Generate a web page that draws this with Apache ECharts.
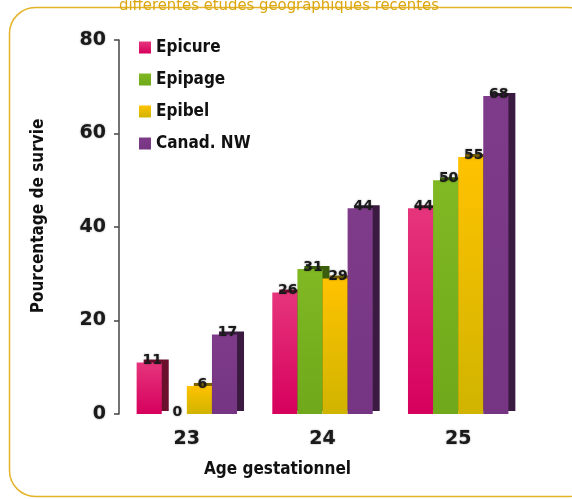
<!DOCTYPE html>
<html>
<head>
<meta charset="utf-8">
<script src="https://cdn.jsdelivr.net/npm/echarts@6/dist/echarts.min.js"></script>
<style>
  html, body { margin: 0; padding: 0; background: #fff; }
  #main { width: 572px; height: 499px; }
</style>
</head>
<body>
<div id="main"></div>
<script>
// données
var ages = ['23', '24', '25'];
var epicure = [11, 26, 44];
var epipage = [0, 31, 50];
var epibel = [6, 29, 55];
var canad = [17, 44, 68];
var yTicks = [0, 20, 40, 60, 80];

var chart = echarts.init(document.getElementById('main'));

var numFont = 'DejaVu Sans';
var narrow = '"DejaVu Sans Condensed", sans-serif';

function grad(top, bottom) {
    return new echarts.graphic.LinearGradient(0, 0, 0, 1, [
        {offset: 0, color: top},
        {offset: 1, color: bottom}
    ]);
}

function mkSerie(name, data, top, bottom, side) {
    return {
        name: name,
        type: 'bar',
        data: data,
        barGap: 0,
        barCategoryGap: '26%',
        itemStyle: {
            color: grad(top, bottom),
            shadowColor: side,
            shadowBlur: 0,
            shadowOffsetX: 7,
            shadowOffsetY: -3
        },
        label: {
            show: true,
            position: 'top',
            distance: -5,
            offset: [3, 0],
            fontFamily: numFont,
            fontWeight: 'bold',
            fontSize: 14,
            color: '#1a1a1a',
            textShadowColor: 'rgba(0,0,0,0.4)',
            textShadowBlur: 2
        }
    };
}

option = {
    backgroundColor: '#fff',
    graphic: [
        {
            type: 'rect',
            left: 7,
            top: 5,
            shape: {width: 585, height: 489, r: 26},
            style: {fill: 'none', stroke: '#e3b32a', lineWidth: 1.5}
        },
        {
            type: 'text',
            x: 279,
            y: 14,
            style: {
                text: 'différentes études géographiques récentes',
                fill: '#dca60f',
                font: '16.5px ' + narrow,
                textAlign: 'center',
                textVerticalAlign: 'bottom'
            }
        }
    ],
    legend: {
        orient: 'vertical',
        left: 134,
        top: 34,
        icon: 'rect',
        itemWidth: 12,
        itemHeight: 12,
        itemGap: 15,
        textStyle: {
            fontFamily: narrow,
            fontWeight: 'bold',
            fontSize: 17,
            color: '#111'
        },
        data: ['Epicure', 'Epipage', 'Epibel', 'Canad. NW']
    },
    grid: {left: 119, right: 46, top: 40, bottom: 85},
    xAxis: {
        type: 'category',
        data: ages,
        name: 'Age gestationnel',
        nameLocation: 'middle',
        nameGap: 47,
        nameTextStyle: {
            fontFamily: narrow,
            fontWeight: 'bold',
            fontSize: 17,
            color: '#111',
            padding: [0, 90, 0, 0]
        },
        axisLine: {show: false},
        axisTick: {show: false},
        axisLabel: {
            margin: 16,
            fontFamily: numFont,
            fontWeight: 'bold',
            fontSize: 19,
            color: '#1a1a1a',
            textShadowColor: 'rgba(0,0,0,0.4)',
            textShadowBlur: 2
        }
    },
    yAxis: {
        type: 'value',
        min: yTicks[0],
        max: yTicks[yTicks.length - 1],
        interval: 20,
        name: 'Pourcentage de survie',
        nameLocation: 'middle',
        nameGap: 72,
        nameTextStyle: {
            fontFamily: narrow,
            fontWeight: 'bold',
            fontSize: 17,
            color: '#111',
            padding: [0, 0, 0, 22]
        },
        splitLine: {show: false},
        axisLine: {show: true, lineStyle: {color: '#444', width: 1.5}},
        axisTick: {show: true, length: 5, lineStyle: {color: '#444', width: 1.5}},
        axisLabel: {
            margin: 13,
            fontFamily: numFont,
            fontWeight: 'bold',
            fontSize: 19,
            color: '#1a1a1a',
            textShadowColor: 'rgba(0,0,0,0.4)',
            textShadowBlur: 2
        }
    },
    color: ['#e0206e', '#7ab51d', '#f8c300', '#7c3a86'],
    series: [
        mkSerie('Epicure', epicure, '#e6357c', '#d6005d', '#6a0f2c'),
        mkSerie('Epipage', epipage, '#80b923', '#6fa81a', '#3b5e0c'),
        mkSerie('Epibel', epibel, '#ffc200', '#d0b400', '#7a6200'),
        mkSerie('Canad. NW', canad, '#7e3b89', '#753582', '#3a1a40')
    ]
};

chart.setOption(option);
</script>
</body>
</html>
